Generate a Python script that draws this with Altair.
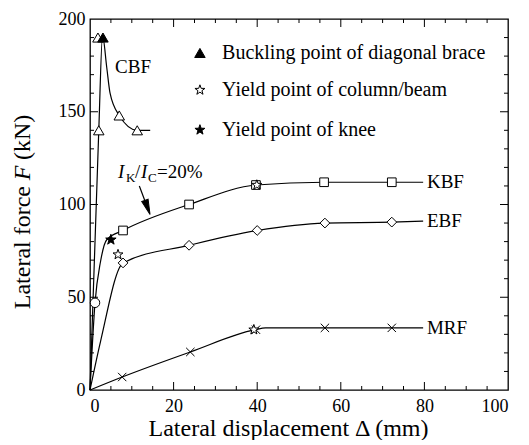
import altair as alt
import pandas as pd

# ---------------- data ----------------
# curve paths (x = displacement mm, y = force kN)
cbf_x = [0, 2.1, 3.0, 4.0, 4.8, 7.0, 11.3, 14.4]
cbf_y = [0, 140, 191, 174, 160, 148, 140, 140]
kbf_x = [0, 1.2, 2.5, 4.0, 7.9, 23.7, 39.7, 56.0, 72.2, 79.7]
kbf_y = [0, 47, 69, 81, 86, 100, 110.5, 112, 112, 112]
ebf_x = [0, 2.5, 7.9, 23.7, 40.0, 56.2, 72.2, 79.7]
ebf_y = [0, 26, 68.5, 78, 86, 90, 90.5, 91]
mrf_x = [0, 7.7, 24.0, 39.5, 42.0, 56.2, 72.2, 79.7]
mrf_y = [0, 7, 20.5, 32.5, 33.5, 33.5, 33.5, 33.5]

# markers
cbf_mx = [1.9, 2.1, 7.0, 11.3]
cbf_my = [190, 140, 148, 140]
kbf_mx = [7.9, 23.7, 39.7, 56.0, 72.2]
kbf_my = [86, 100, 110.5, 112, 112]
kbf_cx = [1.2]
kbf_cy = [47]
ebf_mx = [7.9, 23.7, 40.0, 56.2, 72.2]
ebf_my = [68.5, 78, 86, 90, 90.5]
mrf_mx = [7.7, 24.0, 39.7, 56.2, 72.2]
mrf_my = [7, 20.5, 32.5, 33.5, 33.5]
buckle_x = [3.1]
buckle_y = [190]
yield_cb_x = [6.7, 39.2, 39.9]
yield_cb_y = [73, 32.5, 110.5]
yield_knee_x = [5.0]
yield_knee_y = [81]

# series labels
label_names = ["CBF", "KBF", "EBF", "MRF"]
label_x = [6.0, 80.6, 80.6, 80.6]
label_y = [174, 112, 91, 33.5]

# in-plot legend
legend_texts = ["Buckling point of diagonal brace", "Yield point of column/beam", "Yield point of knee"]
legend_sym_x = [26.3, 26.3, 26.3]
legend_y = [181.7, 161.7, 140.2]
legend_txt_x = [31.6, 31.6, 31.6]

# annotation I_K/I_C = 20%
ann_x = [6.7]
ann_y = [114.3]
arrow_x = [11.8, 13.75]
arrow_y = [110, 98.4]

x_ticks_major = [20, 40, 60, 80]
x_ticks_minor = [5, 10, 15, 25, 30, 35, 45, 50, 55, 65, 70, 75, 85, 90, 95]
y_ticks_major = [50, 100, 150]
y_ticks_minor = [10, 20, 30, 40, 60, 70, 80, 90, 110, 120, 130, 140, 160, 170, 180, 190]
x_labels = [0, 20, 40, 60, 80, 100]
y_labels = [0, 50, 100, 150, 200]

# ---------------- chart ----------------
W, H = 418, 371
FONT = "Liberation Serif"
STAR = ("M0,-1L0.235,-0.324L0.951,-0.309L0.38,0.124L0.588,0.809L0,0.4"
        "L-0.588,0.809L-0.38,0.124L-0.951,-0.309L-0.235,-0.324Z")
XMARK = "M-1,-1L1,1M-1,1L1,-1"
HEAD = "M0,-1L0.45,1L-0.45,1Z"

xs = alt.Scale(domain=[0, 100], nice=False, zero=False)
ys = alt.Scale(domain=[0, 200], nice=False, zero=False)

X_AXIS = alt.Axis(
    values=x_labels, ticks=False, tickSize=0, domain=False, grid=False,
    labelFont=FONT, labelFontSize=18, labelColor="black", labelPadding=7,
    title="Lateral displacement Δ (mm)", titleFont=FONT, titleFontSize=24,
    titleFontWeight="normal", titleColor="black", titleX=198, titleY=45,
    titleBaseline="alphabetic")
Y_AXIS = alt.Axis(
    values=y_labels, ticks=False, tickSize=0, domain=False, grid=False,
    labelFont=FONT, labelFontSize=18, labelColor="black", labelPadding=5,
    title=None)
Xn = alt.X("x:Q", scale=xs, axis=X_AXIS)
Yn = alt.Y("y:Q", scale=ys, axis=Y_AXIS)


def pts(xl, yl, **extra):
    d = pd.DataFrame({"x": xl, "y": yl})
    for k, v in extra.items():
        d[k] = v
    return d


lines_df = pd.concat([
    pts(cbf_x, cbf_y, s="CBF"), pts(kbf_x, kbf_y, s="KBF"),
    pts(ebf_x, ebf_y, s="EBF"), pts(mrf_x, mrf_y, s="MRF"),
])

lines = alt.Chart(lines_df).mark_line(
    interpolate="monotone", color="black", strokeWidth=1.2
).encode(x=Xn, y=Yn, detail="s:N")


def sym(df, shape, size, fill="white", stroke="black", filled=True, sw=1.0, angle=None):
    kw = dict(shape=shape, size=size, filled=filled, stroke=stroke,
              strokeWidth=sw, opacity=1)
    if filled:
        kw["fill"] = fill
    if angle is not None:
        kw["angle"] = angle
    return alt.Chart(df).mark_point(**kw).encode(x=Xn, y=Yn)


markers = [
    sym(pts(cbf_mx, cbf_my), "triangle-up", 110),
    sym(pts(kbf_mx, kbf_my), "square", 75),
    sym(pts(kbf_cx, kbf_cy), "circle", 90),
    sym(pts(ebf_mx, ebf_my), "diamond", 95),
    sym(pts(mrf_mx, mrf_my), XMARK, 70, filled=False),
    sym(pts(buckle_x, buckle_y), "triangle-up", 110, fill="black"),
    sym(pts(yield_cb_x, yield_cb_y), STAR, 110),
    sym(pts(yield_knee_x, yield_knee_y), STAR, 120, fill="black"),
]

leg_df = pd.DataFrame({"x": legend_sym_x, "y": legend_y})
leg_syms = [
    sym(leg_df.iloc[[0]], "triangle-up", 110, fill="black"),
    sym(leg_df.iloc[[1]], STAR, 110),
    sym(leg_df.iloc[[2]], STAR, 110, fill="black"),
]
leg_txt = alt.Chart(pd.DataFrame({"x": legend_txt_x, "y": legend_y, "t": legend_texts})).mark_text(
    align="left", baseline="middle", font=FONT, fontSize=20, color="black"
).encode(x=Xn, y=Yn, text="t:N")

labels = alt.Chart(pd.DataFrame({"x": label_x, "y": label_y, "t": label_names})).mark_text(
    align="left", baseline="middle", font=FONT, fontSize=19, color="black"
).encode(x=Xn, y=Yn, text="t:N")

ann_df = pd.DataFrame({"x": ann_x, "y": ann_y})
ann_parts = []
for txt, dx, dy, fs, style in [("I", 0, 0, 19, "italic"), ("K", 8, 4, 13, "normal"),
                               ("/", 17, 0, 19, "normal"), ("I", 23, 0, 19, "italic"),
                               ("C", 30, 4, 13, "normal"), ("=20%", 39, 0, 19, "normal")]:
    ann_parts.append(alt.Chart(ann_df).mark_text(
        text=txt, align="left", baseline="alphabetic", dx=dx, dy=dy, font=FONT,
        fontSize=fs, fontStyle=style, color="black").encode(x=Xn, y=Yn))

arrow_df = pd.DataFrame({"x": arrow_x, "y": arrow_y, "o": [0, 1]})
arrow_line = alt.Chart(arrow_df).mark_line(color="black", strokeWidth=1.2).encode(
    x=Xn, y=Yn, order="o:Q")
arrow_head = sym(arrow_df.iloc[[1]], HEAD, 225, fill="black", stroke="black", angle=160)

# y title with italic F (rotated text pieces)
yt_df = pd.DataFrame({"x": [0]})
YT_FS = 24
YT_X = -67
ytitle = [
    alt.Chart(yt_df).mark_text(text="Lateral force", angle=270, align="right", baseline="middle",
                               font=FONT, fontSize=YT_FS, color="black").encode(
        x=alt.value(YT_X), y=alt.value(167)),
    alt.Chart(yt_df).mark_text(text="F", angle=270, align="center", baseline="middle",
                               font=FONT, fontSize=YT_FS, fontStyle="italic", color="black").encode(
        x=alt.value(YT_X), y=alt.value(154)),
    alt.Chart(yt_df).mark_text(text="(kN)", angle=270, align="left", baseline="middle",
                               font=FONT, fontSize=YT_FS, color="black").encode(
        x=alt.value(YT_X), y=alt.value(141)),
]


def xtick(vals, ln):
    d = pd.DataFrame({"x": vals})
    b = alt.Chart(d).mark_rule(color="black", strokeWidth=1).encode(
        x=Xn, y=alt.value(H), y2=alt.value(H - ln))
    t = alt.Chart(d).mark_rule(color="black", strokeWidth=1).encode(
        x=Xn, y=alt.value(0), y2=alt.value(ln))
    return [b, t]


def ytick(vals, ln):
    d = pd.DataFrame({"y": vals})
    l = alt.Chart(d).mark_rule(color="black", strokeWidth=1).encode(
        y=Yn, x=alt.value(0), x2=alt.value(ln))
    r = alt.Chart(d).mark_rule(color="black", strokeWidth=1).encode(
        y=Yn, x=alt.value(W), x2=alt.value(W - ln))
    return [l, r]


ticks = xtick(x_ticks_major, 8) + xtick(x_ticks_minor, 4) + ytick(y_ticks_major, 8) + ytick(y_ticks_minor, 4)

chart = alt.layer(
    lines, *markers, *leg_syms, leg_txt, labels, *ann_parts, arrow_line, arrow_head,
    *ytitle, *ticks
).properties(
    width=W, height=H,
    autosize=alt.AutoSizeParams(type="none"),
    padding={"left": 82, "top": 11, "right": 12, "bottom": 50},
    background="white",
).configure_view(stroke="black", strokeWidth=1.3)

chart.save("out.html", embed_options={"renderer": "svg", "actions": False})
